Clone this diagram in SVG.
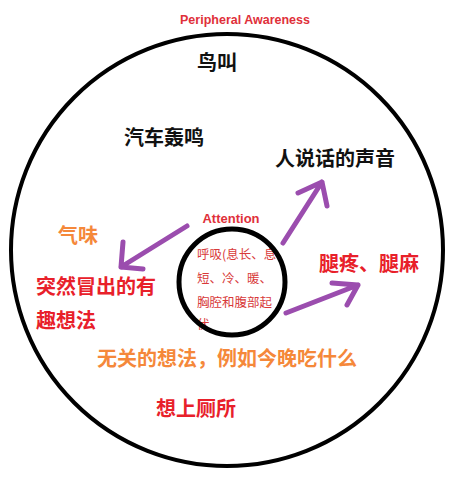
<svg xmlns="http://www.w3.org/2000/svg" width="460" height="486" viewBox="0 0 460 486">
<style>
.cjk{font-family:"Noto Sans CJK SC","Noto Sans",sans-serif;font-weight:bold;font-size:20px}
.lat{font-family:"Liberation Sans",Arial,sans-serif;font-weight:bold;fill:#e0303a}
.blk{fill:#111}
.red{fill:#e8202a}
.org{fill:#f5883a}
.small{font-family:"Noto Sans CJK SC","Noto Sans",sans-serif;font-size:12.5px;fill:#d83a3a}
.ring{fill:none;stroke:#000}
.arrow{fill:none;stroke:#9b4dae;stroke-width:5;stroke-linecap:round;stroke-linejoin:round}
</style>
<rect width="460" height="486" fill="#fff"/>
<g id="outer">
<circle class="ring" cx="227" cy="250" r="216" stroke-width="4"/>
<text class="lat" x="245" y="24" font-size="12.5" text-anchor="middle">Peripheral Awareness</text>
</g>
<g id="n-birds"><text class="cjk blk" x="197" y="70">鸟叫</text></g>
<g id="n-cars"><text class="cjk blk" x="124" y="145">汽车轰鸣</text></g>
<g id="n-voices"><text class="cjk blk" x="275" y="166">人说话的声音</text></g>
<g id="n-smell"><text class="cjk org" x="58" y="243">气味</text></g>
<g id="n-ideas"><text class="cjk red" x="36" y="294">突然冒出的有</text><text class="cjk red" x="36" y="328">趣想法</text></g>
<g id="n-legs"><text class="cjk red" x="319" y="271">腿疼、腿麻</text></g>
<g id="n-thoughts"><text class="cjk org" x="97" y="366">无关的想法，例如今晚吃什么</text></g>
<g id="n-toilet"><text class="cjk red" x="156" y="416">想上厕所</text></g>
<g id="attention">
<text class="lat" x="231" y="223" font-size="13" text-anchor="middle">Attention</text>
<text class="small" x="197" y="259">呼吸(息长、息</text>
<text class="small" x="197" y="283">短、冷、暖、</text>
<text class="small" x="197" y="307">胸腔和腹部起</text>
<text class="small" x="197" y="329">伏</text>
<circle class="ring" cx="232" cy="282" r="53" stroke-width="5"/>
</g>
<g id="connectors">
<path class="arrow" d="M187 226 L121 267 M123 242 L121 267 L143 269"/>
<path class="arrow" d="M283 243 L322 182 M298 193 L322 182 L327 206"/>
<path class="arrow" d="M286 313 L358 285 M332 283 L358 285 L347 305"/>
</g>
</svg>
